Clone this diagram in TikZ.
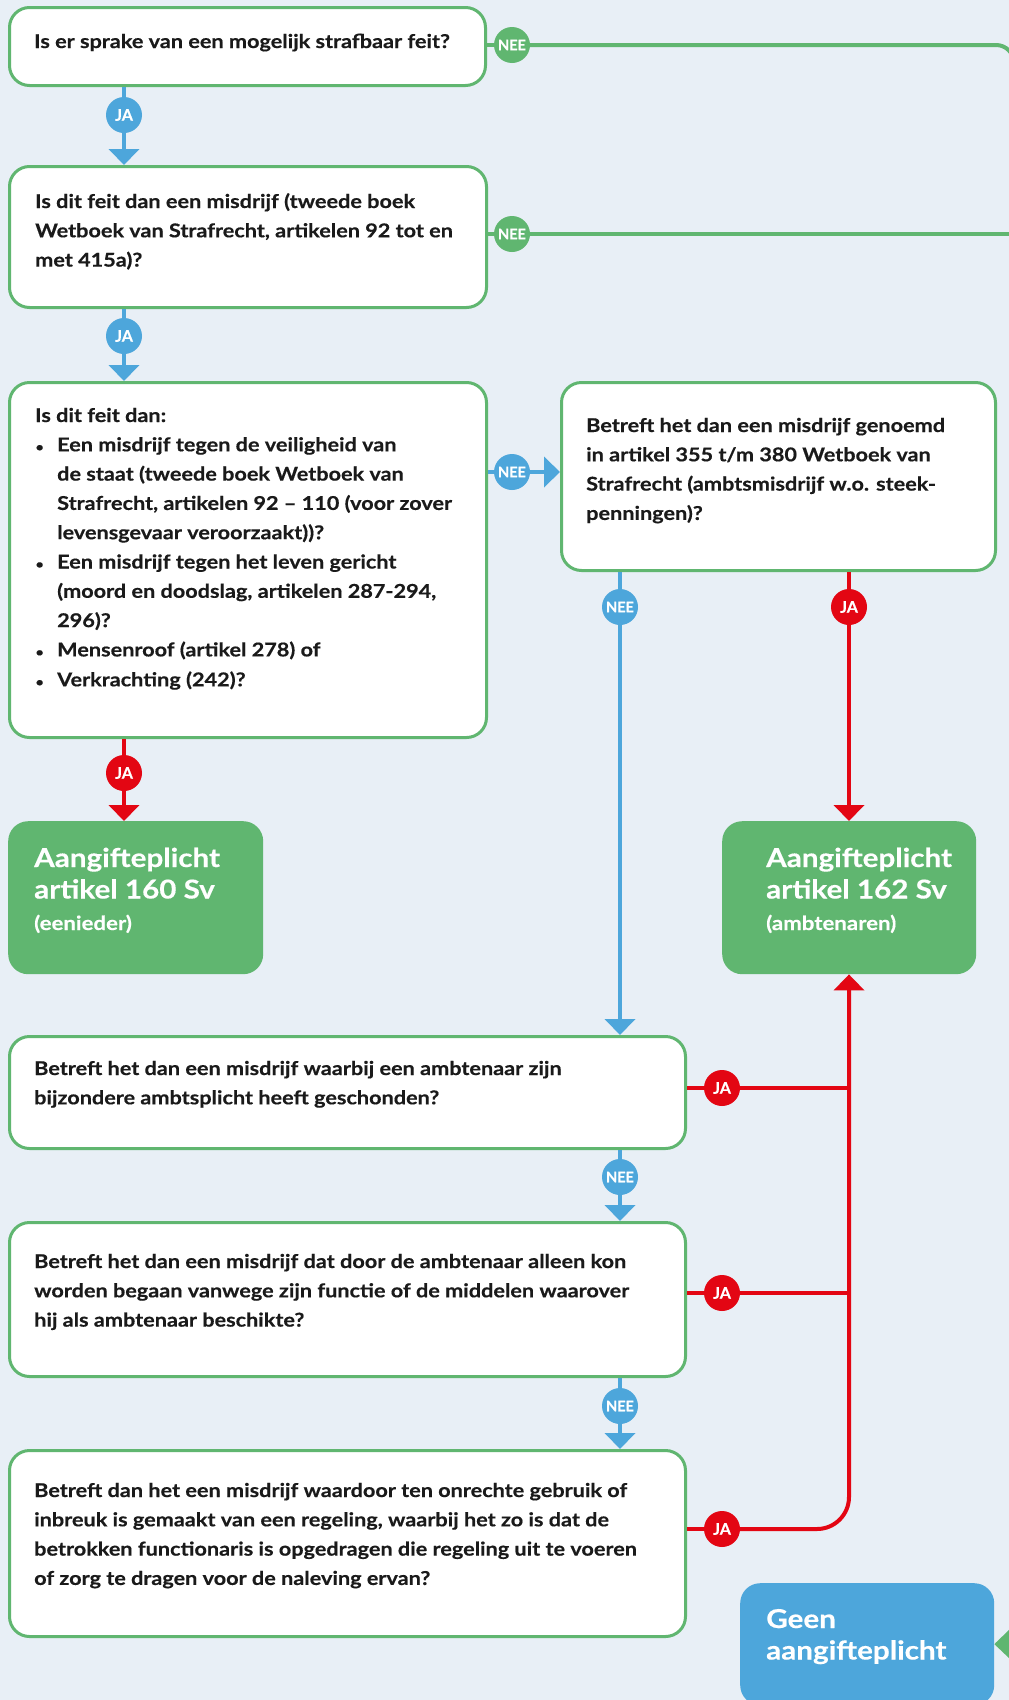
\documentclass[tikz,border=0pt]{standalone}
\usepackage{fontspec}
\setmainfont{Lato}[FakeStretch=1.14, BoldFeatures={FakeBold=0.4}]
\newfontfamily\badgefont{Lato}[BoldFeatures={FakeBold=0.5}]
\usetikzlibrary{arrows.meta}
\definecolor{bgc}{HTML}{E8EFF6}
\definecolor{grn}{HTML}{60B670}
\definecolor{blu}{HTML}{4DA6DB}
\definecolor{rd}{HTML}{E30613}
\definecolor{txt}{HTML}{1A1A1A}
\newcommand\bitem{\makebox[22pt][l]{\hspace{0.5pt}{\fontsize{12}{12}\selectfont •}}}
\newcommand\bcont{\hspace*{22pt}}
\tikzset{
  qbox/.style={draw=grn, line width=3pt, fill=white, rounded corners=20pt, anchor=north west, inner sep=0pt},
  endbox/.style={rounded corners=20pt, anchor=north west, inner sep=0pt},
  badge/.style={circle, minimum size=36pt, inner sep=0pt, text=white, font=\badgefont\bfseries\fontsize{16}{16}\selectfont},
  neebadge/.style={badge, font=\badgefont\bfseries\fontsize{14.5}{14.5}\selectfont},
  conn/.style={line width=4pt},
  tip/.style={-{Triangle[width=30pt,length=16pt]}},
  qtext/.style={anchor=base west, inner sep=0pt, text=txt, font=\bfseries\fontsize{19}{29.3}\selectfont},
  bigtext/.style={anchor=base west, inner sep=0pt, text=white, font=\bfseries\fontsize{26}{31.5}\selectfont},
  subtext/.style={anchor=base west, inner sep=0pt, text=white, font=\bfseries\fontsize{19.5}{22}\selectfont},
}
\begin{document}
\begin{tikzpicture}[x=1pt,y=-1pt]
\useasboundingbox (0,0) rectangle (1009,1700);
\fill[bgc] (0,0) rectangle (1009,1700);
\begin{scope}
\clip (0,0) rectangle (1009,1700);
% boxes
\node[qbox, minimum width=476pt, minimum height=78pt] (b1) at (8,6) {};
\node[qbox, minimum width=477pt, minimum height=141pt] (b2) at (8,165) {};
\node[qbox, minimum width=477pt, minimum height=355pt] (b3) at (8,381) {};
\node[qbox, minimum width=434pt, minimum height=188pt] (b4) at (560,381) {};
\node[qbox, minimum width=676pt, minimum height=112pt] (b5) at (8,1035) {};
\node[qbox, minimum width=676pt, minimum height=154pt] (b6) at (8,1221) {};
\node[qbox, minimum width=676pt, minimum height=186pt] (b7) at (8,1449) {};
\node[endbox, fill=grn, minimum width=255pt, minimum height=153pt] (b160) at (8,821) {};
\node[endbox, fill=grn, minimum width=254pt, minimum height=153pt] (b162) at (722,821) {};
\node[endbox, fill=blu, minimum width=254pt, minimum height=122pt] (geen) at (740,1583) {};
% texts
\node[qtext] (t1) at (34,48) {\parbox[t]{460pt}{\raggedright Is er sprake van een mogelijk strafbaar feit?}};
\node[qtext] (t2) at (35,208) {\parbox[t]{460pt}{\raggedright Is dit feit dan een misdrijf (tweede boek\\Wetboek van Strafrecht, artikelen 92 tot en\\met 415a)?}};
\node[qtext] (t3) at (35,422) {\parbox[t]{460pt}{\raggedright Is dit feit dan:\\
\bitem Een misdrijf tegen de veiligheid van\\
\bcont de staat (tweede boek Wetboek van\\
\bcont Strafrecht, artikelen 92 – 110 (voor zover\\
\bcont levensgevaar veroorzaakt))?\\
\bitem Een misdrijf tegen het leven gericht\\
\bcont (moord en doodslag, artikelen 287-294,\\
\bcont 296)?\\
\bitem Mensenroof (artikel 278) of\\[0.6pt]
\bitem Verkrachting (242)?}};
\node[qtext] (t4) at (586,432) {\parbox[t]{420pt}{\raggedright Betreft het dan een misdrijf genoemd\\in artikel 355 t/m 380 Wetboek van\\Strafrecht (ambtsmisdrijf w.o. steek-\\penningen)?}};
\node[qtext] (t5) at (34,1075) {\parbox[t]{660pt}{\raggedright Betreft het dan een misdrijf waarbij een ambtenaar zijn\\bijzondere ambtsplicht heeft geschonden?}};
\node[qtext] (t6) at (34,1268) {\parbox[t]{660pt}{\raggedright Betreft het dan een misdrijf dat door de ambtenaar alleen kon\\worden begaan vanwege zijn functie of de middelen waarover\\hij als ambtenaar beschikte?}};
\node[qtext] (t7) at (34,1497) {\parbox[t]{660pt}{\raggedright Betreft dan het een misdrijf waardoor ten onrechte gebruik of\\inbreuk is gemaakt van een regeling, waarbij het zo is dat de\\betrokken functionaris is opgedragen die regeling uit te voeren\\of zorg te dragen voor de naleving ervan?}};
\node[bigtext] (t160) at (34,867) {\parbox[t]{230pt}{\raggedright Aangifteplicht\\artikel 160 Sv}};
\node[subtext] (s160) at (34,930) {(eenieder)};
\node[bigtext] (t162) at (766,867) {\parbox[t]{230pt}{\raggedright Aangifteplicht\\artikel 162 Sv}};
\node[subtext] (s162) at (766,930) {(ambtenaren)};
\node[bigtext] (tgeen) at (766,1628) {\parbox[t]{230pt}{\raggedright Geen\\aangifteplicht}};
% badges
\node[badge, fill=blu] (ja1) at (124,115) {JA};
\node[badge, fill=blu] (ja2) at (124,336) {JA};
\node[neebadge, fill=grn] (nee1) at (512,45) {NEE};
\node[neebadge, fill=grn] (nee2) at (512,234) {NEE};
\node[neebadge, fill=blu] (nee3) at (512,472) {NEE};
\node[neebadge, fill=blu] (nee4) at (620,607) {NEE};
\node[badge, fill=rd] (ja4) at (849,607) {JA};
\node[badge, fill=rd] (ja3) at (124,773) {JA};
\node[badge, fill=rd] (ja5) at (722,1088) {JA};
\node[neebadge, fill=blu] (nee5) at (620,1177) {NEE};
\node[badge, fill=rd] (ja6) at (722,1293) {JA};
\node[neebadge, fill=blu] (nee6) at (620,1406) {NEE};
\node[badge, fill=rd] (ja7) at (722,1529) {JA};
% helper coordinates
\coordinate (gr1) at (1014,45);
\coordinate (gr2) at (1014,1644);
\coordinate (rc) at (849,1529);
% connectors
\draw[conn, blu] (b1.south -| ja1) -- (ja1.north);
\draw[conn, blu, tip] (ja1.south) -- (b2.north -| ja1);
\draw[conn, blu] (b2.south -| ja2) -- (ja2.north);
\draw[conn, blu, tip] (ja2.south) -- (b3.north -| ja2);
\draw[conn, grn] (b1.east |- nee1) -- (nee1.west);
\draw[conn, grn, rounded corners=18pt, tip] (nee1.east) -- (gr1) -- (gr2) -- (geen.east);
\draw[conn, grn] (b2.east |- nee2) -- (nee2.west);
\draw[conn, grn] (nee2.east) -- (gr1 |- nee2);
\draw[conn, blu] (b3.east |- nee3) -- (nee3.west);
\draw[conn, blu, tip] (nee3.east) -- (b4.west |- nee3);
\draw[conn, blu] (b4.south -| nee4) -- (nee4.north);
\draw[conn, blu, tip] (nee4.south) -- (b5.north -| nee4);
\draw[conn, rd] (b4.south -| ja4) -- (ja4.north);
\draw[conn, rd, tip] (ja4.south) -- (b162.north -| ja4);
\draw[conn, rd] (b3.south -| ja3) -- (ja3.north);
\draw[conn, rd, tip] (ja3.south) -- (b160.north -| ja3);
\draw[conn, blu] (b5.south -| nee5) -- (nee5.north);
\draw[conn, blu, tip] (nee5.south) -- (b6.north -| nee5);
\draw[conn, blu] (b6.south -| nee6) -- (nee6.north);
\draw[conn, blu, tip] (nee6.south) -- (b7.north -| nee6);
\draw[conn, rd] (b5.east |- ja5) -- (ja5.west);
\draw[conn, rd] (ja5.east) -- (rc |- ja5);
\draw[conn, rd] (b6.east |- ja6) -- (ja6.west);
\draw[conn, rd] (ja6.east) -- (rc |- ja6);
\draw[conn, rd] (b7.east |- ja7) -- (ja7.west);
\draw[conn, rd, rounded corners=32pt, tip] (ja7.east) -- (rc) -- (b162.south -| rc);
\end{scope}
\end{tikzpicture}
\end{document}
